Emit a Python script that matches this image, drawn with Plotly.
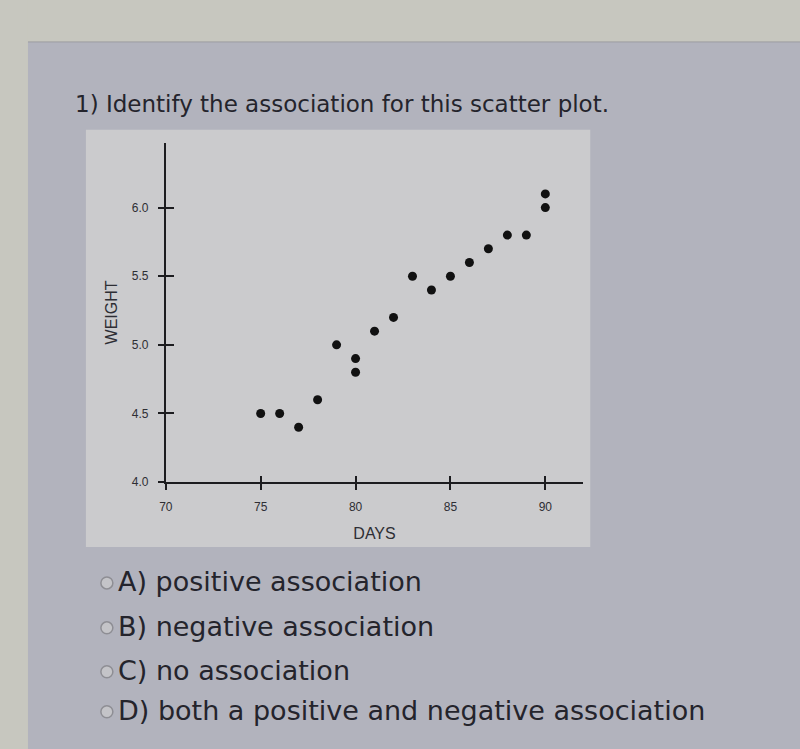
import plotly.graph_objects as go

# Data
days = [75, 76, 77, 78, 79, 80, 80, 81, 82, 83, 84, 85, 86, 87, 88, 89, 90, 90]
weight = [4.5, 4.5, 4.4, 4.6, 5.0, 4.9, 4.8, 5.1, 5.2, 5.5, 5.4, 5.5, 5.6, 5.7, 5.8, 5.8, 6.0, 6.1]
x_ticks = [70, 75, 80, 85, 90]
y_ticks = [4.0, 4.5, 5.0, 5.5, 6.0]
question = "1) Identify the association for this scatter plot."
choices = ["A) positive association", "B) negative association", "C) no association",
           "D) both a positive and negative association"]

W, H = 800, 749
CARD = "#b2b3bd"
PANEL = "#cbcbcd"
BAND = "#c7c7bf"
INK = "#1c1c1f"
TEXT = "#24242c"
LBL = "#2e2e34"

S = 0.9925

def px(x):
    return ((x - 6) / S) / W

def py(y):
    return 1 - (y / S) / H

fig = go.Figure()
fig.add_trace(go.Scatter(x=days, y=weight, mode="markers",
                         marker=dict(color="#111111", size=9), showlegend=False,
                         hoverinfo="skip"))
# invisible trace to activate overlay axes (ticks on the other side)
fig.add_trace(go.Scatter(x=[days[0]], y=[weight[0]], mode="markers", xaxis="x2", yaxis="y2",
                         marker=dict(opacity=0), showlegend=False, hoverinfo="skip"))

xdom = [px(165), px(583)]
ydom = [py(483), py(143)]
xr = [70, 70 + (583 - 165) / 19.0]
yr = [4.0, 4.0 + (483 - 143) / 137.5]

tick_common = dict(showgrid=False, zeroline=False, tickcolor=INK, tickwidth=1.5)
line_common = dict(linecolor=INK, linewidth=2, showline=True)
tfont = dict(family="Liberation Sans, Arial", size=12, color=LBL)

fig.update_layout(
    width=W, height=H,
    margin=dict(l=0, r=0, t=0, b=0),
    paper_bgcolor=CARD, plot_bgcolor="rgba(0,0,0,0)",
    xaxis=dict(domain=xdom, range=xr, tickvals=x_ticks, ticks="outside", ticklen=6,
               tickfont=tfont, ticklabelstandoff=6,
               title=dict(text="DAYS", font=dict(family="Liberation Sans, Arial", size=16, color=LBL),
                          standoff=15),
               **tick_common, **line_common),
    yaxis=dict(domain=ydom, range=yr, tickvals=y_ticks, tickformat=".1f", ticks="outside", ticklen=6,
               tickfont=tfont, ticklabelstandoff=7,
               title=dict(text="WEIGHT", font=dict(family="Liberation Sans, Arial", size=16, color=LBL),
                          standoff=10),
               **tick_common, **line_common),
    xaxis2=dict(domain=xdom, range=xr, overlaying="x", anchor="y2", tickvals=x_ticks,
                ticks="inside", ticklen=6, showticklabels=False, showline=False, **tick_common),
    yaxis2=dict(domain=ydom, range=yr, overlaying="y", anchor="x2", tickvals=y_ticks,
                ticks="inside", ticklen=8, showticklabels=False, showline=False, **tick_common),
)

shapes = [
    dict(type="rect", xref="paper", yref="paper", x0=-0.1, x1=1.1, y0=py(42), y1=1.1,
         fillcolor=BAND, line=dict(width=0), layer="below"),
    dict(type="rect", xref="paper", yref="paper", x0=-0.1, x1=px(27), y0=-0.1, y1=1.1,
         fillcolor=BAND, line=dict(width=0), layer="below"),
    dict(type="line", xref="paper", yref="paper", x0=px(27), x1=1.1, y0=py(42), y1=py(42),
         line=dict(color="#9c9ca0", width=1), layer="below"),
    dict(type="rect", xref="paper", yref="paper", x0=px(85), x1=px(590), y0=py(548), y1=py(130),
         fillcolor=PANEL, line=dict(width=0), layer="below"),
]

annotations = [
    dict(text=question, xref="paper", yref="paper", x=px(72), y=py(104), xanchor="left",
         yanchor="middle", showarrow=False,
         font=dict(family="DejaVu Sans", size=23, color=TEXT)),
]

choice_y = [583, 628, 672, 712]
for txt, cy in zip(choices, choice_y):
    annotations.append(dict(text=txt, xref="paper", yref="paper", x=px(115), y=py(cy),
                            xanchor="left", yanchor="middle", showarrow=False,
                            font=dict(family="DejaVu Sans", size=27, color=TEXT)))
    shapes.append(dict(type="circle", xref="paper", yref="paper",
                       x0=px(100), x1=px(112), y0=py(cy + 7), y1=py(cy - 5),
                       line=dict(color="#8e8e94", width=1.5), fillcolor="#c4c4c8"))

fig.update_layout(shapes=shapes, annotations=annotations)
fig.write_html("out.html")
